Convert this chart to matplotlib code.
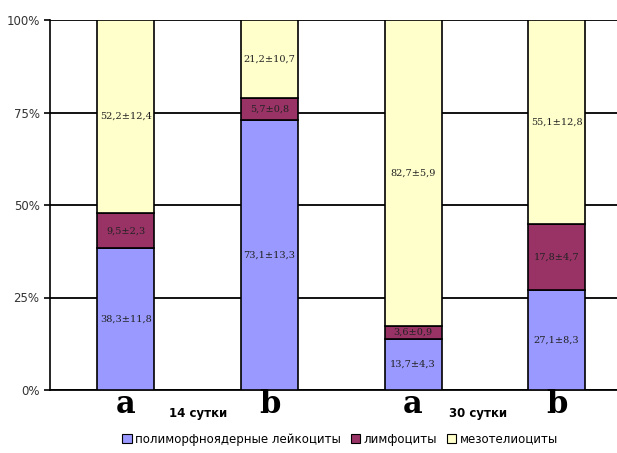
import numpy as np
import matplotlib
matplotlib.use("Agg")
import matplotlib.pyplot as plt
from matplotlib.patches import Patch

groups = ["a", "b", "a", "b"]
days = ["14 сутки", "30 сутки"]
series_names = ["полиморфноядерные лейкоциты", "лимфоциты", "мезотелиоциты"]
pmn = [38.3, 73.1, 13.7, 27.1]
lymph = [9.5, 5.7, 3.6, 17.8]
meso = [52.2, 21.2, 82.7, 55.1]
pmn_lbl = ["38,3±11,8", "73,1±13,3", "13,7±4,3", "27,1±8,3"]
lymph_lbl = ["9,5±2,3", "5,7±0,8", "3,6±0,9", "17,8±4,7"]
meso_lbl = ["52,2±12,4", "21,2±10,7", "82,7±5,9", "55,1±12,8"]
colors = ["#9999ff", "#993366", "#ffffcc"]

fig = plt.figure(figsize=(6.17, 4.53), dpi=100)
ax = fig.add_axes([50/617, 1-390/453, 567/617, 370/453])

x = np.arange(len(groups))
w = 0.396
bottom = np.zeros(len(groups))
for vals, lbls, c in zip([pmn, lymph, meso], [pmn_lbl, lymph_lbl, meso_lbl], colors):
    ax.bar(x, vals, w, bottom=bottom, color=c, edgecolor="black", linewidth=1.2, zorder=3)
    for xi, b, v, t in zip(x, bottom, vals, lbls):
        ax.text(xi, b + v/2, t, ha="center", va="center", fontsize=7,
                family="DejaVu Serif", color="#222222", zorder=4)
    bottom += np.array(vals)

ax.set_xlim(-0.528, 3.42)
ax.set_ylim(0, 100)
ax.set_yticks([0, 25, 50, 75, 100])
ax.set_yticklabels(["0%", "25%", "50%", "75%", "100%"], fontsize=8.5, color="#333333")
ax.yaxis.grid(True, color="black", linewidth=1.3, zorder=0)
ax.set_xticks([])
for s in ["top", "right"]:
    ax.spines[s].set_visible(False)
ax.spines["left"].set_linewidth(1.2)
ax.spines["bottom"].set_linewidth(1.3)
ax.tick_params(axis="y", length=4, width=1.2)

# group letters and day captions under the bars
for xi, g in zip(x, groups):
    ax.text(xi, 0.3, g, ha="center", va="top",
            fontsize=22, fontweight="bold", family="DejaVu Serif", clip_on=False)
for xd, d in zip([0.5, 2.45], days):
    ax.text(xd, -4.5, d, ha="center", va="top", fontsize=8.5, fontweight="bold", clip_on=False)

handles = [Patch(facecolor=c, edgecolor="black", linewidth=0.8) for c in colors]
fig.legend(handles, series_names, loc="center", bbox_to_anchor=(340/617, 1-439/453),
           ncol=3, frameon=False, fontsize=8.5, handlelength=0.8, handleheight=0.8,
           handletextpad=0.3, columnspacing=0.8)

fig.savefig("out.png", dpi=100)
